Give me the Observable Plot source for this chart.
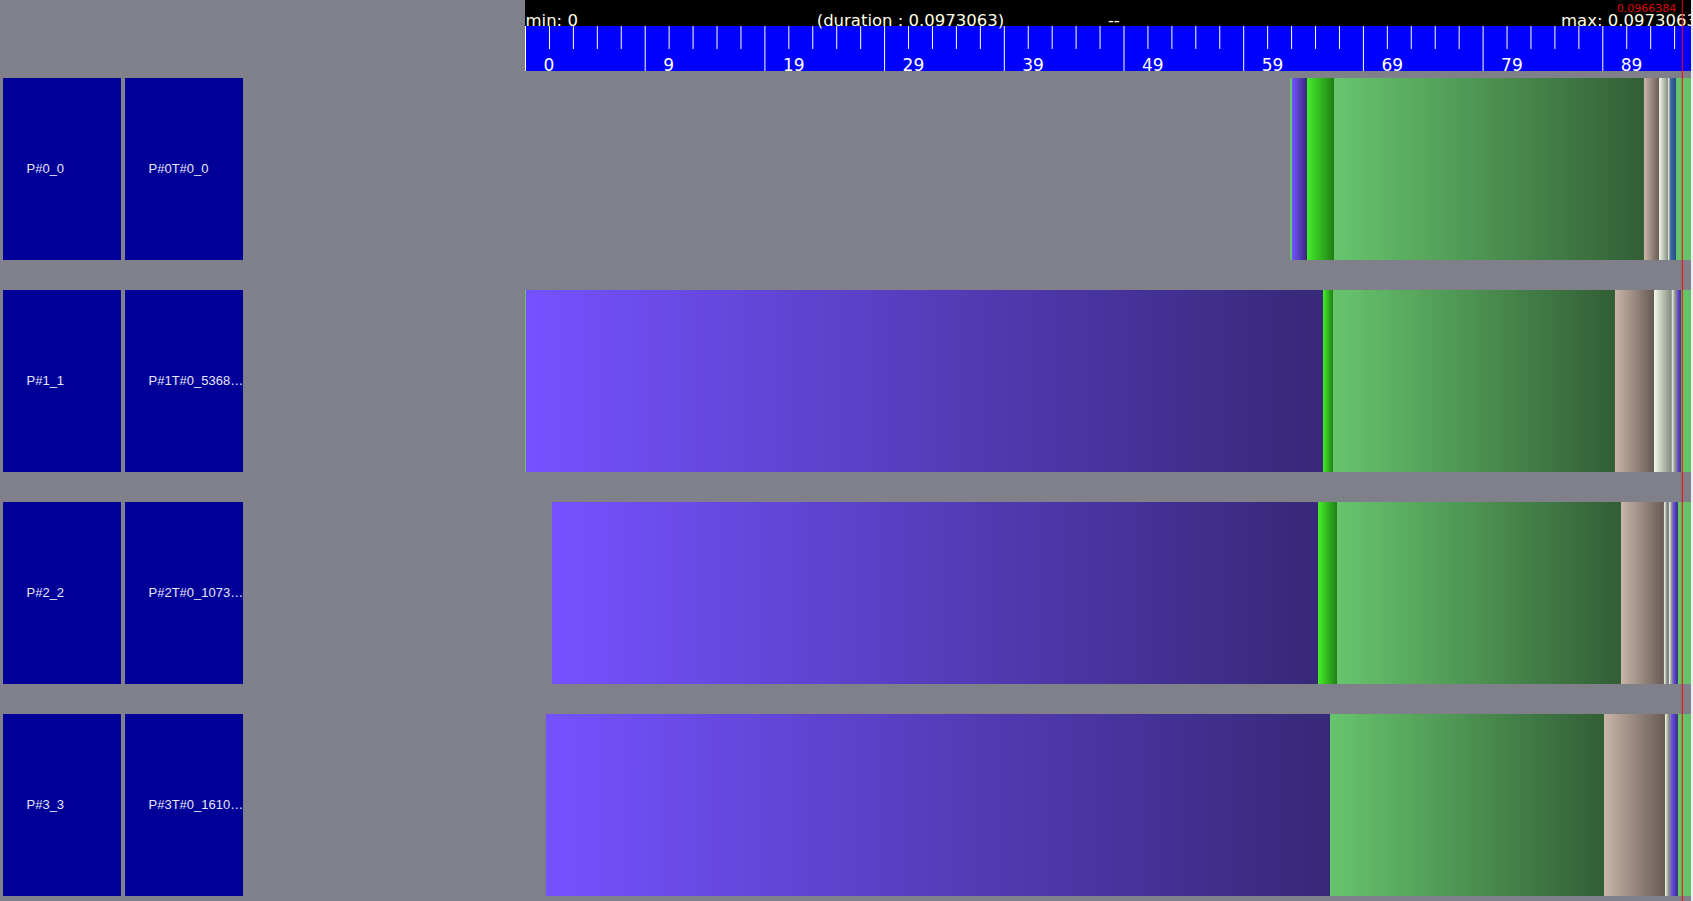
<!DOCTYPE html>
<html><head><meta charset="utf-8">
<script src="https://cdn.jsdelivr.net/npm/d3@7"></script>
<script src="https://cdn.jsdelivr.net/npm/@observablehq/plot@0.6"></script>
<style>
html,body{margin:0;padding:0;background:#ececec;overflow:hidden;}
#wrap{display:grid;grid-template-columns:525px 1166px;grid-template-rows:71px 830px;width:1691px;height:901px;background:#80808a;}
#head{background:linear-gradient(#000 0 26px,#0000ff 26px 71px);}
#wrap svg{display:block;}
</style></head><body>
<div id="wrap"><div id="corner"></div><div id="head"></div><div id="labels"></div><div id="timeline"></div></div>
<script>
// ---- data ----
const durationMs = 97.3063;
const cursorMs = 96.6384;
const headerMin = "min: 0";
const headerDuration = "(duration : 0.0973063)";
const headerMid = "--";
const headerMax = "max: 0.0973063";
const cursorLabel = "0.0966384";
const majorTicks = [0, 10, 20, 30, 40, 50, 60, 70, 80, 90];
const tickLabels = ["0", "9", "19", "29", "39", "49", "59", "69", "79", "89"];
const minorTicks = [2,4,6,8,12,14,16,18,22,24,26,28,32,34,36,38,42,44,46,48,52,54,56,58,62,64,66,68,72,74,76,78,82,84,86,88,92,94,96];
const processes = ["P#0_0", "P#1_1", "P#2_2", "P#3_3"];
const threads = ["P#0T#0_0", "P#1T#0_5368…", "P#2T#0_1073…", "P#3T#0_1610…"];
// segments per row: [start ms, end ms, state]
const row0 = [[63.91,64.08,"light"],[64.08,65.33,"purple"],[65.33,67.59,"lime"],[67.59,93.48,"green"],[93.48,94.74,"tan"],[94.74,95.49,"cream"],[95.49,95.66,"cream"],[95.66,96.16,"blue"],[96.16,97.41,"light"]];
const row1 = [[0,0.08,"light"],[0.08,66.67,"purple"],[66.67,67.5,"lime"],[67.5,91.06,"green"],[91.06,94.32,"tan"],[94.32,95.74,"cream"],[95.8,96.1,"cream"],[96.24,96.57,"purple"],[96.57,97.41,"light"]];
const row2 = [[2.26,66.25,"purple"],[66.25,67.84,"lime"],[67.84,91.56,"green"],[91.56,95.15,"tan"],[95.15,95.4,"cream"],[95.57,95.82,"cream"],[95.9,96.32,"purple"],[96.32,97.41,"light"]];
const row3 = [[1.75,67.25,"purple"],[67.25,90.14,"green"],[90.14,95.24,"tan"],[95.24,95.57,"cream"],[95.74,96.32,"purple"],[96.32,97.41,"light"]];

// ---- styles ----
const stateGradients = {
  purple: ["#7452ff", "#372878"],
  lime: ["#44ee2a", "#1f7f14"],
  green: ["#67c56d", "#325e36"],
  tan: ["#c9b5a8", "#675b54"],
  cream: ["#f2fae8", "#868c80"],
  blue: ["#3d70b0", "#274a7e"],
  light: ["#66c46c", "#64c26a"]
};
const pxPerMs = 11.97;
const xScale = {domain: [0, durationMs], range: [0, pxPerMs * durationMs], axis: null};
const yScale = {type: "band", domain: processes, range: [7, 825], paddingInner: 30 / 212, paddingOuter: 0, round: false, axis: null};

const segments = [row0, row1, row2, row3].flatMap((r, i) => r.map(([s, e, k]) => ({row: processes[i], start: s, end: e, state: k})));

// ---- header ruler ----
const head = Plot.plot({
  width: 1166, height: 71, margin: 0,
  x: xScale,
  y: {type: "identity", axis: null},
  style: {background: "transparent", overflow: "hidden"},
  marks: [
    Plot.ruleX(minorTicks, {x: d => d, y1: 26, y2: 49, stroke: "white", strokeWidth: 1}),
    Plot.ruleX(majorTicks, {x: d => d, y1: 26, y2: 71, stroke: "white", strokeWidth: 1}),
    Plot.text(majorTicks, {x: d => d, y: 70, text: (d, i) => tickLabels[i], dx: 18, textAnchor: "start", lineAnchor: "bottom", fill: "white", fontSize: 17, fontFamily: "DejaVu Sans"}),
    Plot.text([
      {x: 0, t: headerMin},
      {x: durationMs * 0.25, t: headerDuration},
      {x: durationMs * 0.5, t: headerMid},
      {x: durationMs * 0.889, t: headerMax}
    ], {x: "x", y: 25.5, text: "t", textAnchor: "start", lineAnchor: "bottom", fill: "#ffffe6", fontSize: 16.5, fontFamily: "DejaVu Sans"}),
    Plot.ruleX([cursorMs], {x: d => d, stroke: "#ff0000", strokeWidth: 1}),
    Plot.text([cursorMs], {x: d => d, y: 11.5, text: () => cursorLabel, dx: -6, textAnchor: "end", lineAnchor: "bottom", fill: "#dd0000", fontSize: 11, fontFamily: "DejaVu Sans"})
  ]
});
document.getElementById("head").appendChild(head);

// ---- labels panel ----
const cells = processes.flatMap((p, i) => [{row: p, col: "proc", label: p}, {row: p, col: "thread", label: threads[i]}]);
const labels = Plot.plot({
  width: 525, height: 830, margin: 0,
  x: {type: "band", domain: ["proc", "thread"], range: [3, 243], paddingInner: 4 / 122, paddingOuter: 0, round: false, axis: null},
  y: yScale,
  style: {background: "transparent"},
  marks: [
    Plot.cell(cells, {x: "col", y: "row", fill: "#000099", inset: 0}),
    Plot.text(cells, {x: "col", y: "row", text: "label", dx: -36, dy: -1, textAnchor: "start", fill: "#e6e6f6", fontSize: 13, fontFamily: "Liberation Sans, Arial, sans-serif"})
  ]
});
document.getElementById("labels").appendChild(labels);

// ---- timeline ----
const states = Object.keys(stateGradients);
const timeline = Plot.plot({
  width: 1166, height: 830, margin: 0,
  x: xScale,
  y: yScale,
  style: {background: "transparent", overflow: "hidden"},
  marks: [
    ...states.map(k => Plot.barX(segments.filter(s => s.state === k), {x1: "start", x2: "end", y: "row", fill: `url(#grad-${k})`})),
    Plot.ruleX([cursorMs], {x: d => d, stroke: "#ff0000", strokeWidth: 1})
  ]
});
const defs = d3.select(timeline).insert("defs", ":first-child");
for (const k of states) {
  const g = defs.append("linearGradient").attr("id", `grad-${k}`).attr("x1", 0).attr("x2", 1).attr("y1", 0).attr("y2", 0);
  g.append("stop").attr("offset", "0%").attr("stop-color", stateGradients[k][0]);
  g.append("stop").attr("offset", "100%").attr("stop-color", stateGradients[k][1]);
}
document.getElementById("timeline").appendChild(timeline);
</script>
</body></html>
